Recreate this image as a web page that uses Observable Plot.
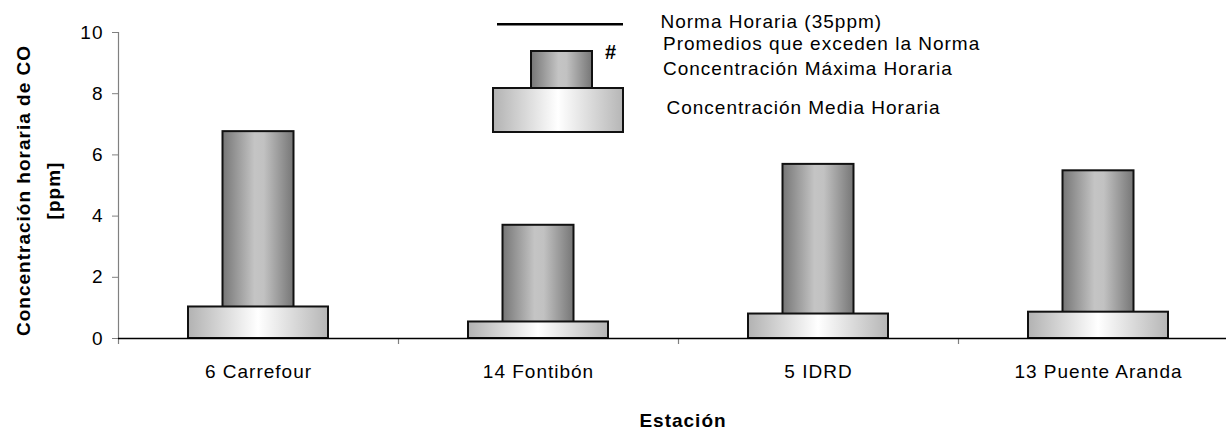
<!DOCTYPE html>
<html>
<head>
<meta charset="utf-8">
<script src="https://cdn.jsdelivr.net/npm/d3@7"></script>
<script src="https://cdn.jsdelivr.net/npm/@observablehq/plot@0.6"></script>
<style>
  html, body { margin: 0; padding: 0; background: white; }
  #wrap { position: relative; width: 1226px; height: 433px; }
  #legend { position: absolute; left: 0; top: 0; pointer-events: none; }
  #legend text { font-family: "Liberation Sans", Arial, sans-serif; font-size: 19px; letter-spacing: 1px; fill: black; }
</style>
</head>
<body>
<div id="wrap"></div>
<script>
// ---- data ----
const stations = ["6 Carrefour", "14 Fontibón", "5 IDRD", "13 Puente Aranda"];
const maxHourly = [6.76, 3.70, 5.69, 5.48];   // Concentración Máxima Horaria
const meanHourly = [1.03, 0.54, 0.80, 0.86];  // Concentración Media Horaria
const yTicks = [0, 2, 4, 6, 8, 10];
const yTitle = "Concentración horaria de CO\n[ppm]";
const xTitle = "Estación";
const legendLabels = ["Norma Horaria (35ppm)", "Promedios que exceden la Norma", "Concentración Máxima Horaria", "Concentración Media Horaria"];
const legendMark = "#";

const rows = stations.map((s, i) => ({station: s, max: maxHourly[i], mean: meanHourly[i]}));

// ---- layout ----
const W = 1226, H = 433;
const xRange = [118, 1238];
const halfStep = (xRange[1] - xRange[0]) / stations.length / 2;
const font = "'Liberation Sans', Arial, sans-serif";

const chart = Plot.plot({
  width: W,
  height: H,
  marginLeft: xRange[0],
  marginRight: 0,
  marginTop: 32,
  marginBottom: 95,
  style: {fontFamily: font, fontSize: "19px", letterSpacing: "1px", background: "white", color: "black"},
  x: {domain: stations, range: xRange, paddingInner: 0.5, paddingOuter: 0.25},
  y: {domain: [0, 10]},
  marks: [
    // y axis line (gray)
    Plot.ruleX([stations[0]], {x: d => d, dx: -halfStep, y1: 0, y2: 10, stroke: "#808080", strokeWidth: 1.2}),
    Plot.axisY({ticks: yTicks, tickSize: 6, tickPadding: 9, stroke: "#808080", fill: "black", label: null, fontSize: 19}),
    Plot.axisX({tickSize: 0, tickPadding: 26, label: null, fontSize: 19, fill: "black"}),
    // category boundary ticks
    Plot.ruleX(stations, {x: d => d, dx: -halfStep, y1: 0, y2: 0, insetBottom: -6, stroke: "#808080", strokeWidth: 1.2}),
    // max bars (behind)
    Plot.barY(rows, {x: "station", y: "max", fill: "url(#gMax)", stroke: "#111", strokeWidth: 2, insetLeft: 34.5, insetRight: 34.5}),
    // mean bars (base)
    Plot.barY(rows, {x: "station", y: "mean", fill: "url(#gBase)", stroke: "#111", strokeWidth: 2}),
    // x axis baseline
    Plot.ruleY([0], {stroke: "black", strokeWidth: 1.5}),
    // titles
    Plot.text([yTitle], {text: d => d, frameAnchor: "left", rotate: -90, textAnchor: "middle", lineAnchor: "middle",
      dx: -83, dy: 5, fontWeight: "bold", fontSize: 19, lineHeight: 1.55, fill: "black"}),
    Plot.text([xTitle], {text: d => d, frameAnchor: "bottom", textAnchor: "middle", lineAnchor: "middle",
      dx: 10.5, dy: 82, fontWeight: "bold", fontSize: 19, fill: "black"})
  ]
});

// gradients
const NS = "http://www.w3.org/2000/svg";
function grad(id, stops) {
  const g = document.createElementNS(NS, "linearGradient");
  g.setAttribute("id", id);
  g.setAttribute("x1", "0"); g.setAttribute("x2", "1"); g.setAttribute("y1", "0"); g.setAttribute("y2", "0");
  for (const [o, c] of stops) {
    const s = document.createElementNS(NS, "stop");
    s.setAttribute("offset", o);
    s.setAttribute("stop-color", c);
    g.appendChild(s);
  }
  return g;
}
const defs = document.createElementNS(NS, "defs");
defs.appendChild(grad("gMax", [["0%", "#767676"], ["45%", "#c4c4c4"], ["58%", "#c2c2c2"], ["100%", "#767676"]]));
defs.appendChild(grad("gBase", [["0%", "#b2b2b2"], ["50%", "#ffffff"], ["100%", "#b6b6b6"]]));
chart.insertBefore(defs, chart.firstChild);

const wrap = document.getElementById("wrap");
wrap.appendChild(chart);

// legend overlay
const lg = document.createElementNS(NS, "svg");
lg.setAttribute("id", "legend");
lg.setAttribute("width", W);
lg.setAttribute("height", 140);
function el(tag, attrs, text) {
  const e = document.createElementNS(NS, tag);
  for (const k in attrs) e.setAttribute(k, attrs[k]);
  if (text != null) e.textContent = text;
  lg.appendChild(e);
  return e;
}
el("line", {x1: 497, x2: 623, y1: 24.3, y2: 24.3, stroke: "black", "stroke-width": 2.5});
el("rect", {x: 531, y: 51, width: 61, height: 37, fill: "url(#gMax)", stroke: "#111", "stroke-width": 2});
el("rect", {x: 493, y: 88, width: 130, height: 44, fill: "url(#gBase)", stroke: "#111", "stroke-width": 2});
el("text", {x: 605, y: 59, "font-weight": "bold", style: "font-size:20px"}, legendMark);
el("text", {x: 660.5, y: 28}, legendLabels[0]);
el("text", {x: 663, y: 50}, legendLabels[1]);
el("text", {x: 663, y: 75}, legendLabels[2]);
el("text", {x: 666.5, y: 113.5}, legendLabels[3]);
wrap.appendChild(lg);
</script>
</body>
</html>
